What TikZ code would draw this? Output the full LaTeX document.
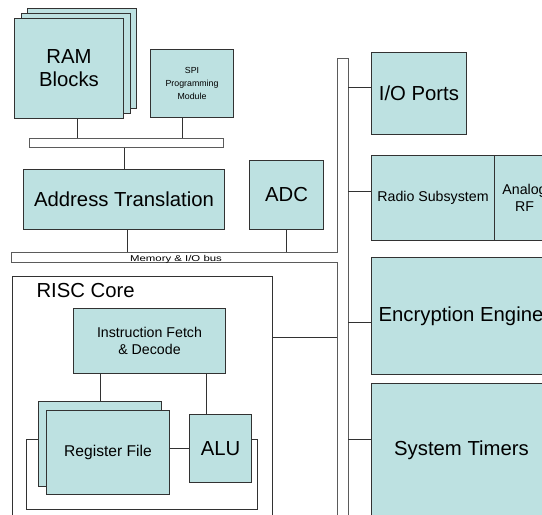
\documentclass[tikz,border=0pt]{standalone}
\usepackage{fontspec}
\setmainfont{Liberation Sans}
\usepackage{tikz}
\definecolor{blockfill}{RGB}{189,225,225}
\definecolor{edge}{RGB}{50,50,50}
\tikzset{
 blk/.style={draw=edge,fill=blockfill,line width=1pt,inner sep=0pt,align=center,anchor=north west},
 busbar/.style={draw=edge!80,fill=white,line width=1pt,inner sep=0pt,anchor=north west},
 link/.style={draw=edge,line width=1pt},
 big/.style={font=\fontsize{20.3}{23}\selectfont},
 mid/.style={font=\fontsize{14.2}{16.7}\selectfont},
 small/.style={font=\fontsize{8.8}{13.3}\selectfont},
}

\begin{document}
\begin{tikzpicture}[x=1pt,y=-1pt]
 \useasboundingbox (0,0) rectangle (542,515);
 \clip (0,0) rectangle (542,515);
 % memory side
 \foreach \n/\x/\y in {ram3/27/8,ram2/20.5/13}
   \node[blk,minimum width=109pt,minimum height=100pt] (\n) at (\x,\y) {};
 \node[blk,big,minimum width=109pt,minimum height=100pt] (ram) at (14,18) {RAM\\Blocks};
 \node[blk,small,minimum width=83pt,minimum height=68pt] (spi) at (150,49) {SPI\\Programming\\Module};
 \node[busbar,minimum width=194pt,minimum height=9pt] (rambus) at (29,138) {};
 \node[blk,big,minimum width=201pt,minimum height=60pt] (addr) at (23,169) {Address Translation};
 \node[blk,big,minimum width=74pt,minimum height=69pt] (adc) at (249,160) {ADC};
 \draw[link] ([xshift=8.5pt]ram.south) -- ([xshift=8.5pt]ram.south |- rambus.north);
 \draw[link] ([xshift=-9.5pt]spi.south) -- ([xshift=-9.5pt]spi.south |- rambus.north);
 \draw[link] (addr.north) -- (addr.north |- rambus.south);
 % buses
 \coordinate (hbus) at (11,252);
 \coordinate (vbusl) at (337,58);
 \coordinate (vbus) at (348,58);
 \draw[link,draw=edge!80] (337,530) -- (337,262) -- (11,262) -- (hbus) -- (337,252) -- (vbusl) -- (vbus) -- (348,530);
 \node[anchor=base,font=\fontsize{8.5}{10}\selectfont] (buslbl) at (176,261) {\scalebox{1.34}[1]{Memory \& I/O bus}};
 \draw[link] ([xshift=3.5pt]addr.south) -- ([xshift=3.5pt]addr.south |- hbus);
 \draw[link] (adc.south) -- (adc.south |- hbus);
 % core
 \node[draw=edge,line width=1pt,fill=white,inner sep=0pt,anchor=north west,minimum width=260pt,minimum height=254pt] (risc) at (12,276) {};
 \node[big,anchor=base west] (risclbl) at (33,297) {RISC Core};
 \node[blk,mid,minimum width=152pt,minimum height=65pt] (ifd) at (73,308) {Instruction Fetch\\\& Decode};
 \node[blk,minimum width=123pt,minimum height=85pt] (reg2) at (38,401) {};
 \node[blk,font=\fontsize{15.6}{18}\selectfont,minimum width=123pt,minimum height=84pt] (reg) at (46,410) {Register File};
 \node[blk,big,minimum width=62pt,minimum height=68pt] (alu) at (189,414) {ALU};
 \draw[link] (reg2.north) -- (reg2.north |- ifd.south);
 \draw[link] ([xshift=-14pt]alu.north) -- ([xshift=-14pt]alu.north |- ifd.south);
 \draw[link] (alu.west) -- (alu.west -| reg.east);
 \draw[link] ([yshift=4.5pt]reg2.west) -- ++(-12,0) -- ++(0,70) -- ++(231,0) -- ++(0,-70) -- ([yshift=9pt]alu.east);
 \draw[link] ([yshift=-61pt]risc.north east) coordinate (rc) -- (rc -| vbusl);
 % peripherals
 \node[blk,big,minimum width=95pt,minimum height=82pt] (io) at (371,52) {I/O Ports};
 \node[blk,mid,minimum width=123pt,minimum height=85pt] (radio) at (371,155) {Radio Subsystem};
 \node[blk,mid,minimum width=60pt,minimum height=85pt] (rf) at (494,155) {Analog\\RF};
 \node[blk,big,minimum width=179pt,minimum height=117pt] (enc) at (371,257) {Encryption Engine};
 \node[blk,big,minimum width=180pt,minimum height=134pt] (tmr) at (371,383) {System Timers};
 \foreach \b/\s in {io/6,radio/6.5,enc/-6.5,tmr/11}
   \draw[link] ([yshift=\s pt]\b.west) -- ([yshift=\s pt]\b.west -| vbus);
\end{tikzpicture}
\end{document}
